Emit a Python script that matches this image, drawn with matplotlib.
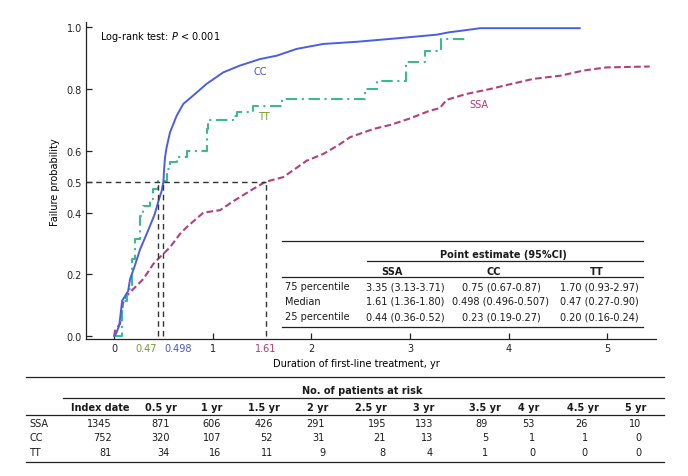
import matplotlib
matplotlib.use("Agg")
import matplotlib.pyplot as plt
from matplotlib.lines import Line2D
import matplotlib.transforms as mtrans

plt.rcParams['font.family'] = ['DejaVu Sans']
plt.rcParams['mathtext.fontset'] = 'custom'
plt.rcParams['mathtext.it'] = 'DejaVu Sans:italic'
plt.rcParams['mathtext.rm'] = 'DejaVu Sans'

W, H = 688, 477

# curves (time in years, failure probability)
cc_t = [0, 0.02, 0.05, 0.08, 0.14, 0.16, 0.21, 0.26, 0.34, 0.41, 0.45, 0.48, 0.498,
        0.505, 0.515, 0.53, 0.565, 0.633, 0.70, 0.80, 0.937, 1.105, 1.274, 1.477,
        1.647, 1.85, 2.12, 2.46, 2.86, 3.27, 3.40, 3.55, 3.71, 4.72]
cc_p = [0, 0.01, 0.035, 0.115, 0.146, 0.185, 0.23, 0.28, 0.34, 0.395, 0.44, 0.47, 0.50,
        0.54, 0.58, 0.61, 0.66, 0.714, 0.752, 0.779, 0.817, 0.854, 0.876, 0.897,
        0.908, 0.93, 0.946, 0.953, 0.964, 0.976, 0.984, 0.99, 0.997, 0.997]

tt_t = [0, 0.06, 0.078, 0.126, 0.176, 0.21, 0.26, 0.294, 0.362, 0.396, 0.446, 0.53,
        0.565, 0.633, 0.734, 0.937, 0.953, 1.207, 1.24, 1.41, 1.70, 2.54, 2.66, 2.96,
        3.15, 3.31, 3.59]
tt_p = [0, 0.0, 0.115, 0.153, 0.25, 0.315, 0.39, 0.42, 0.444, 0.477, 0.503, 0.54,
        0.563, 0.58, 0.60, 0.67, 0.70, 0.714, 0.725, 0.746, 0.768, 0.80, 0.827, 0.887,
        0.924, 0.962, 0.962]

ssa_t = [0, 0.007, 0.058, 0.09, 0.126, 0.193, 0.294, 0.396, 0.463, 0.565, 0.666, 0.734,
         0.903, 1.072, 1.207, 1.41, 1.535, 1.714, 1.88, 1.95, 2.12, 2.29, 2.39, 2.63,
         2.80, 3.0, 3.20, 3.30, 3.37, 3.57, 3.81, 3.98, 4.25, 4.52, 4.76, 4.99, 5.43]
ssa_p = [0, 0.018, 0.04, 0.11, 0.131, 0.153, 0.185, 0.234, 0.256, 0.288, 0.331, 0.353,
         0.40, 0.408, 0.437, 0.477, 0.50, 0.515, 0.552, 0.568, 0.59, 0.622, 0.644, 0.671,
         0.684, 0.705, 0.73, 0.738, 0.765, 0.784, 0.80, 0.813, 0.833, 0.843, 0.86, 0.87, 0.873]

# medians: label text and where the guide line sits in the picture
med_labels = ["0.47", "0.498", "1.61"]
med_x = [0.446, 0.497, 1.535]

y_ticks = [0, 0.2, 0.4, 0.5, 0.6, 0.8, 1.0]
x_ticks = [0, 1, 2, 3, 4, 5]

# inset table
pe_groups = ["SSA", "CC", "TT"]
pe_rows = ["75 percentile", "Median", "25 percentile"]
pe_vals = [["3.35 (3.13-3.71)", "0.75 (0.67-0.87)", "1.70 (0.93-2.97)"],
           ["1.61 (1.36-1.80)", "0.498 (0.496-0.507)", "0.47 (0.27-0.90)"],
           ["0.44 (0.36-0.52)", "0.23 (0.19-0.27)", "0.20 (0.16-0.24)"]]

# patients at risk
risk_cols = ["Index date", "0.5 yr", "1 yr", "1.5 yr", "2 yr", "2.5 yr", "3 yr",
             "3.5 yr", "4 yr", "4.5 yr", "5 yr"]
risk_ssa = [1345, 871, 606, 426, 291, 195, 133, 89, 53, 26, 10]
risk_cc = [752, 320, 107, 52, 31, 21, 13, 5, 1, 1, 0]
risk_tt = [81, 34, 16, 11, 9, 8, 4, 1, 0, 0, 0]

c_cc = '#4a5ee3'
c_tt = '#3dba8c'
c_ssa = '#b23f82'
c_cc_txt = '#4a55c8'
c_tt_txt = '#6f9a2a'
c_ssa_txt = '#b8386e'


def px(x, y):
    return x / W, 1 - y / H


fig = plt.figure(figsize=(W / 100, H / 100), dpi=100)
ax = fig.add_axes([86 / W, 1 - 340 / H, 570 / W, 317.3 / H])
ax.set_xlim(-0.287, 5.494)
ax.set_ylim(-0.009, 1.018)

for s in ['top', 'right']:
    ax.spines[s].set_visible(False)
for s in ['left', 'bottom']:
    ax.spines[s].set_linewidth(0.9)
    ax.spines[s].set_color('#222222')

ax.plot(ssa_t, ssa_p, color=c_ssa, lw=1.5, dashes=(3.2, 1.6))
ax.plot(tt_t, tt_p, color=c_tt, lw=1.5, dashes=(5.5, 2.2, 1, 2.2), drawstyle='steps-post')
ax.plot(cc_t, cc_p, color=c_cc, lw=1.4)

# median guide lines
gcol = '#333333'
ax.plot([ax.get_xlim()[0], med_x[2]], [0.5, 0.5], color=gcol, lw=1, dashes=(4, 3))
for mx in med_x:
    ax.plot([mx, mx], [0, 0.5], color=gcol, lw=1, dashes=(4, 3))

ax.set_yticks(y_ticks)
ax.set_yticklabels(["%.1f" % v for v in y_ticks])
ax.set_xticks(x_ticks)
ax.set_xticklabels([str(v) for v in x_ticks])
ax.tick_params(direction='in', length=4, width=0.9, labelsize=7, pad=3, colors='#222222')

btrans = mtrans.blended_transform_factory(ax.transData, ax.transAxes)
ax.annotate(med_labels[0], (med_x[0], 0), xycoords=btrans, xytext=(-1, -3),
            textcoords='offset points', ha='right', va='top', fontsize=7, color=c_tt_txt)
ax.annotate(med_labels[1], (med_x[1], 0), xycoords=btrans, xytext=(0.5, -3),
            textcoords='offset points', ha='left', va='top', fontsize=7, color=c_cc_txt)
ax.annotate(med_labels[2], (med_x[2], 0), xycoords=btrans, xytext=(0, -3),
            textcoords='offset points', ha='center', va='top', fontsize=7, color=c_ssa_txt)

ax.text(1.48, 0.859, "CC", color=c_cc_txt, fontsize=7, ha='center', va='center')
ax.text(1.52, 0.713, "TT", color=c_tt_txt, fontsize=7, ha='center', va='center')
ax.text(3.70, 0.752, "SSA", color=c_ssa_txt, fontsize=7, ha='center', va='center')

fig.text(*px(100, 37), "Log-rank test: $P$ < 0.001", fontsize=7, ha='left', va='center')
fig.text(*px(55, 182), "Failure probability", fontsize=7, rotation=90, ha='center', va='center')
fig.text(*px(356, 364), "Duration of first-line treatment, yr", fontsize=7,
         ha='center', va='center')


def hline(y, x0, x1, lw=0.9):
    a, b = px(x0, y)
    c, d = px(x1, y)
    fig.add_artist(Line2D([a, c], [b, d], color='#222222', lw=lw))


def txt(x, y, s, **kw):
    fig.text(*px(x, y), s, fontsize=7, va='center', color='#1a1a1a', **kw)


# inset point-estimate table
hline(242.3, 282, 643)
txt(503, 255, "Point estimate (95%CI)", ha='center', weight='bold')
hline(262.3, 367, 643)
for g, hx in zip(pe_groups, [392, 494, 597]):
    txt(hx, 271.7, g, ha='center', weight='bold')
hline(278.3, 282, 643)
for r, ry, vals in zip(pe_rows, [287.3, 301.7, 317.3], pe_vals):
    txt(285, ry, r, ha='left')
    for v, vx in zip(vals, [405, 501, 599]):
        txt(vx, ry, v, ha='center')
hline(328.3, 282, 643)

# patients at risk table
hline(378.3, 26, 664)
txt(362, 390.7, "No. of patients at risk", ha='center', weight='bold')
hline(399.3, 63, 664)
col_x = [100, 161, 212, 264, 318, 371, 424, 485, 529, 583, 636]
num_x = [112, 170, 221, 273, 325, 386, 433, 488, 535, 588, 641]
for c, cx in zip(risk_cols, col_x):
    txt(cx, 407.7, c, ha='center', weight='bold')
hline(416, 26, 664)
for name, vals, ry in zip(["SSA", "CC", "TT"], [risk_ssa, risk_cc, risk_tt],
                          [424.3, 438.3, 453.3]):
    txt(29, ry, name, ha='left')
    for v, nx in zip(vals, num_x):
        txt(nx, ry, str(v), ha='right')
hline(462.7, 26, 664)

fig.savefig("out.png", dpi=100)
